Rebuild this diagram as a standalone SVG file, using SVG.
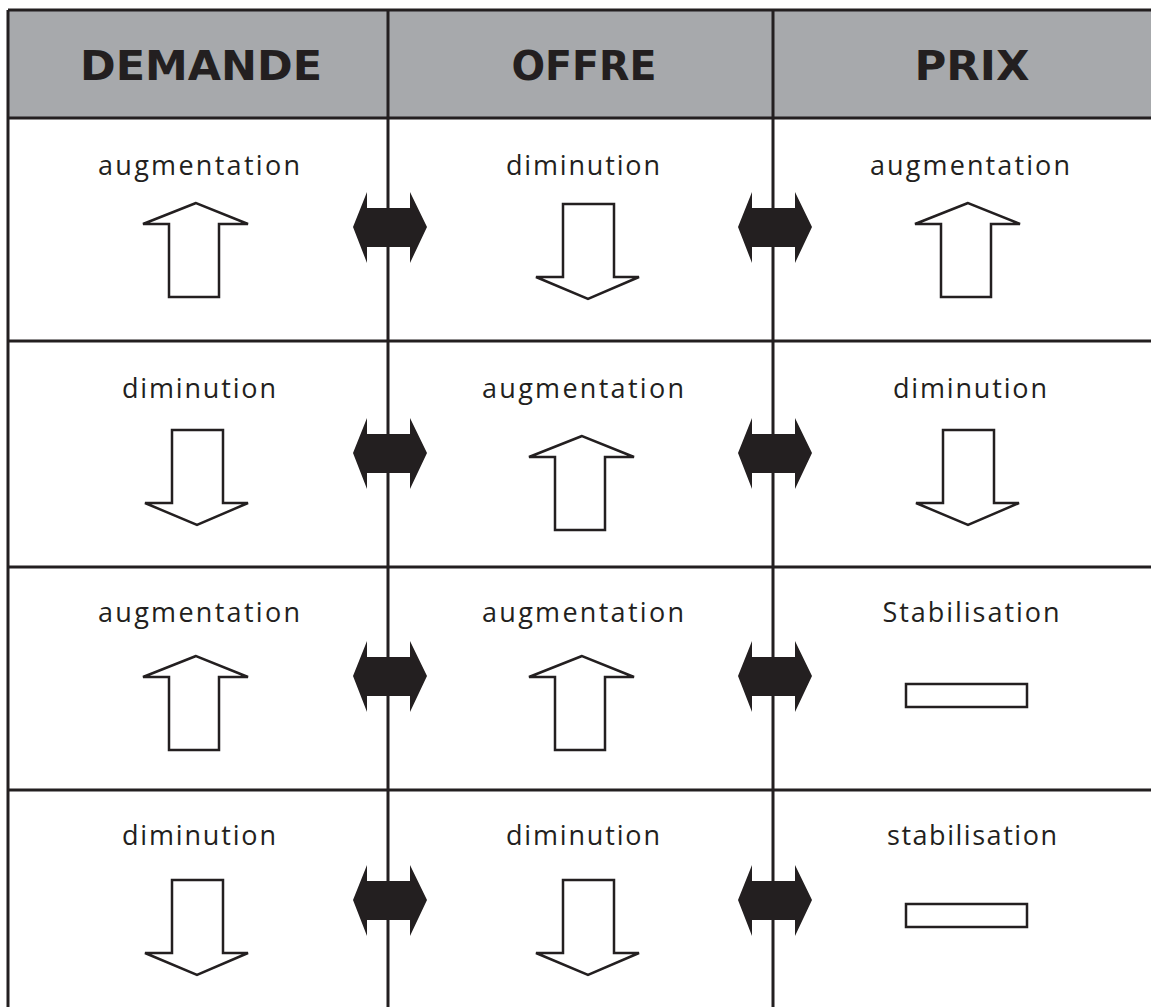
<svg xmlns="http://www.w3.org/2000/svg" width="1151" height="1007" viewBox="0 0 1151 1007">
<style>
.grid{stroke:#231f20;stroke-width:3;fill:none}
.hd{font-family:"DejaVu Sans","Liberation Sans",sans-serif;font-weight:bold;font-size:41px;fill:#231f20;text-anchor:middle}
.lb{font-family:"Open Sans","DejaVu Sans",sans-serif;font-size:27px;fill:#231f20;text-anchor:middle}
.ar{fill:#fff;stroke:#231f20;stroke-width:2.5;stroke-linejoin:miter}
.dbl{fill:#231f20}
</style>
<defs>
<polygon id="up" class="ar" points="0,0 -53,21 -27,21 -27,94 23,94 23,21 52,21"/>
<polygon id="down" class="ar" points="-25,0 26,0 26,73 51,73 0,95 -52,73 -25,73"/>
<polygon id="dbl" class="dbl" points="-35,0 -21,-35 -21,-19 22,-19 22,-35 39,0 22,36 22,20 -21,20 -21,36"/>
</defs>
<rect x="8" y="10" width="1160" height="108" fill="#a7a9ac"/>
<g id="grid">
<line class="grid" x1="8" y1="10" x2="1151" y2="10"/>
<line class="grid" x1="8" y1="118" x2="1151" y2="118"/>
<line class="grid" x1="8" y1="341" x2="1151" y2="341"/>
<line class="grid" x1="8" y1="567" x2="1151" y2="567"/>
<line class="grid" x1="8" y1="790" x2="1151" y2="790"/>
<line class="grid" x1="8" y1="10" x2="8" y2="1007"/>
<line class="grid" x1="388" y1="10" x2="388" y2="1007"/>
<line class="grid" x1="773" y1="10" x2="773" y2="1007"/>
</g>
<g id="headers">
<text class="hd" x="201" y="80" textLength="242" lengthAdjust="spacingAndGlyphs">DEMANDE</text>
<text class="hd" x="584" y="80" textLength="145" lengthAdjust="spacingAndGlyphs">OFFRE</text>
<text class="hd" x="972" y="80" textLength="115" lengthAdjust="spacingAndGlyphs">PRIX</text>
</g>
<g id="row1">
<text class="lb" x="199" y="175" textLength="202">augmentation</text>
<use href="#up" x="196" y="203"/>
<text class="lb" x="583" y="175" textLength="154">diminution</text>
<use href="#down" x="588" y="204"/>
<text class="lb" x="970" y="175" textLength="200">augmentation</text>
<use href="#up" x="968" y="203"/>
</g>
<g id="row2">
<text class="lb" x="199" y="398" textLength="154">diminution</text>
<use href="#down" x="197" y="430"/>
<text class="lb" x="583" y="398" textLength="202">augmentation</text>
<use href="#up" x="582" y="436"/>
<text class="lb" x="970" y="398" textLength="154">diminution</text>
<use href="#down" x="968" y="430"/>
</g>
<g id="row3">
<text class="lb" x="199" y="622" textLength="202">augmentation</text>
<use href="#up" x="196" y="656"/>
<text class="lb" x="583" y="622" textLength="202">augmentation</text>
<use href="#up" x="582" y="656"/>
<text class="lb" x="971" y="622" textLength="177">Stabilisation</text>
<rect class="ar" x="906" y="684" width="121" height="23"/>
</g>
<g id="row4">
<text class="lb" x="199" y="845" textLength="154">diminution</text>
<use href="#down" x="197" y="880"/>
<text class="lb" x="583" y="845" textLength="154">diminution</text>
<use href="#down" x="588" y="880"/>
<text class="lb" x="972" y="845" textLength="170">stabilisation</text>
<rect class="ar" x="906" y="904" width="121" height="23"/>
</g>
<g id="connectors">
<use href="#dbl" x="388" y="227"/>
<use href="#dbl" x="773" y="227"/>
<use href="#dbl" x="388" y="453"/>
<use href="#dbl" x="773" y="453"/>
<use href="#dbl" x="388" y="676"/>
<use href="#dbl" x="773" y="676"/>
<use href="#dbl" x="388" y="900"/>
<use href="#dbl" x="773" y="900"/>
</g>
</svg>
